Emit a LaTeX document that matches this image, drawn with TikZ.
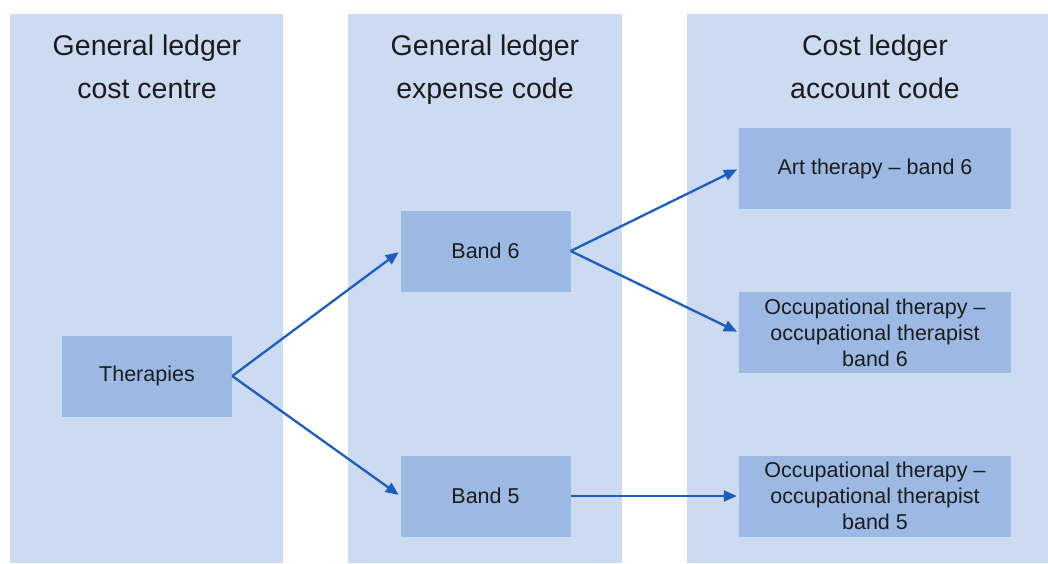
\documentclass[tikz,border=0pt]{standalone}
\usepackage{fontspec}
\setmainfont{Liberation Sans}
\usetikzlibrary{arrows.meta}
\definecolor{lane}{RGB}{204,219,241}
\definecolor{boxfill}{RGB}{155,185,227}
\definecolor{arrowblue}{RGB}{28,94,190}
\definecolor{ink}{RGB}{28,28,28}

\begin{document}
\begin{tikzpicture}[x=1pt,y=-1pt,
  lanebox/.style={fill=lane,draw=none},
  lanetitle/.style={font=\fontsize{28.5}{43}\selectfont,text=ink,anchor=base,inner sep=0pt},
  item/.style={fill=boxfill,draw=none,minimum width=170pt,minimum height=81pt,
    font=\fontsize{21.5}{26}\selectfont,text=ink,align=center,inner sep=0pt},
  wide/.style={item,minimum width=272pt},
  link/.style={draw=arrowblue,line width=2.3pt,-{Triangle[length=13pt,width=11pt]},shorten >=2pt}]

  \useasboundingbox (0,0) rectangle (1048,563);

  % three lanes
  \fill[lanebox] (10,14) rectangle (283,563);
  \fill[lanebox] (348,14) rectangle (622,563);
  \fill[lanebox] (687,14) rectangle (1048,563);

  % lane headings, one node per line on fixed baselines
  \node[lanetitle] (h1a) at (147,55) {General ledger};
  \node[lanetitle] (h1b) at (147,98.5) {cost centre};
  \node[lanetitle] (h2a) at (485,55) {General ledger};
  \node[lanetitle] (h2b) at (485,98.5) {expense code};
  \node[lanetitle] (h3a) at (875,55) {Cost ledger};
  \node[lanetitle] (h3b) at (875,98.5) {account code};

  % boxes
  \node[item] (ther) at (147,376) {Therapies};
  \node[item] (b6) at (485.5,251) {Band 6};
  \node[item] (b5) at (485.5,496) {Band 5};
  \node[wide] (art) at (875,168.5) {Art therapy -- band 6};
  \node[wide] (occ6) at (875,332.5) {Occupational therapy --\\occupational therapist\\band 6};
  \node[wide] (occ5) at (875,496) {Occupational therapy --\\occupational therapist\\band 5};

  % links
  \draw[link] (ther.east) -- (b6.west);
  \draw[link] (ther.east) -- (b5.west);
  \draw[link] (b6.east) -- (art.west);
  \draw[link] (b6.east) -- (occ6.west);
  \draw[link] (b5.east) -- (occ5.west);
\end{tikzpicture}
\end{document}
